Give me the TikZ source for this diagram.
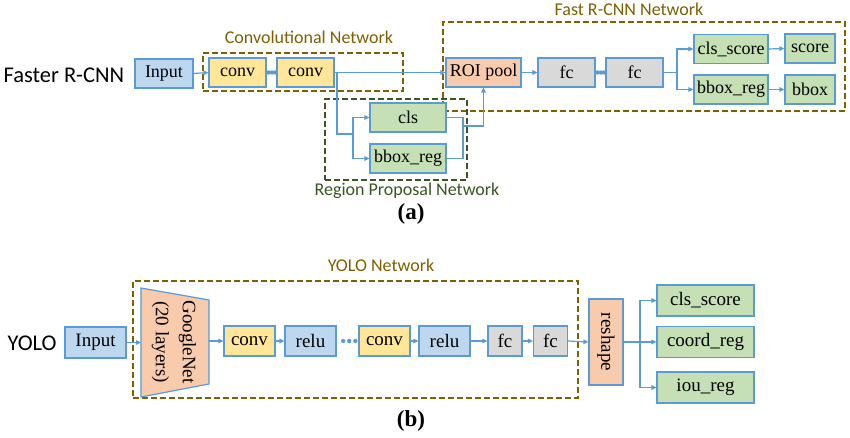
\documentclass[tikz,border=0pt]{standalone}
\usepackage{fontspec}
\setmainfont{Liberation Serif}
\newfontfamily\calfont{Carlito}
\newfontfamily\boxfont{Liberation Serif}
\usetikzlibrary{arrows.meta}
\definecolor{bord}{HTML}{5B9BD5}
\definecolor{fblue}{HTML}{BDD7EE}
\definecolor{fyel}{HTML}{FFE699}
\definecolor{fgrn}{HTML}{C5E0B4}
\definecolor{forg}{HTML}{F8CBAD}
\definecolor{fgry}{HTML}{D9D9D9}
\definecolor{olive}{HTML}{7F6000}
\definecolor{dgrn}{HTML}{385723}
\begin{document}
\begin{tikzpicture}[x=1pt,y=-1pt,
  box/.style={draw=bord, line width=1.2pt, inner sep=0pt, font=\boxfont\fontsize{18}{20}\selectfont},
  boxb/.style={box, font=\boxfont\fontsize{19}{21}\selectfont, minimum height=30pt},
  sbox/.style={box, minimum height=29pt},
  dbox/.style={draw=#1, line width=1.8pt, dash pattern=on 6pt off 3pt, inner sep=0pt},
  lab/.style={font=\calfont\fontsize{18}{20}\selectfont, text=#1},
  conn/.style={draw=bord, line width=1.2pt},
  arr/.style={conn, -{Triangle[length=5pt,width=4.5pt]}},
  dotc/.style={circle, fill=bord, inner sep=0pt, minimum size=4.4pt},
  title/.style={font=\calfont\fontsize{22.5}{24}\selectfont},
  capt/.style={font=\boxfont\bfseries\fontsize{23}{25}\selectfont}
]
\fill[white] (0,0) rectangle (850,438);
\useasboundingbox (0,0) rectangle (850,438);

% ---------- (a) Faster R-CNN ----------
\node[title, anchor=west] (tA) at (0,75) {Faster R-CNN};

\node[dbox=olive, minimum width=200pt, minimum height=38pt] (convnet) at (303,72) {};
\node[lab=olive] (convlab) at (309,37) {Convolutional Network};
\node[dbox=olive, minimum width=402pt, minimum height=89pt] (fastnet) at (644,66.5) {};
\node[lab=olive] (fastlab) at (629,9) {Fast R-CNN Network};
\node[dbox=dgrn, minimum width=142pt, minimum height=81pt] (rpn) at (396,139.5) {};
\node[lab=dgrn] (rpnlab) at (407,191) {Region Proposal Network};

\node[sbox, fill=fblue, minimum width=58pt] (inA) at (164,73.5) {Input};
\node[sbox, fill=fyel, minimum width=57pt] (conv1) at (237.5,72.5) {conv};
\node[sbox, fill=fyel, minimum width=57pt] (conv2) at (305.5,72.5) {conv};
\node[sbox, fill=fgrn, minimum width=76pt] (cls) at (408,117.5) {cls};
\node[sbox, fill=fgrn, minimum width=76pt] (bbr) at (408,158.5) {bbox\_reg};
\node[sbox, fill=forg, minimum width=75pt] (roi) at (483.5,72.5) {ROI pool};
\node[sbox, fill=fgry, minimum width=57pt] (fc1) at (566.5,72.5) {fc};
\node[sbox, fill=fgry, minimum width=57pt] (fc2) at (634.5,72.5) {fc};
\node[sbox, fill=fgrn, minimum width=74pt] (clss) at (731,49) {cls\_score};
\node[sbox, fill=fgrn, minimum width=74pt] (bbr2) at (731,89.5) {bbox\_reg};
\node[sbox, fill=fgrn, minimum width=50pt] (score) at (810,48.5) {score};
\node[sbox, fill=fgrn, minimum width=50pt] (bbox) at (810,89.5) {bbox};

\draw[arr] (inA.east) -- (conv1.west);
\path (conv1.east) -- (conv2.west)
  node[dotc, pos=0.2] {} node[dotc, pos=0.55] {} node[dotc, pos=0.88] {};
\draw[arr] (conv2.east) -- (roi.west);
\coordinate (b1) at (337,72.5);
\coordinate (b2) at (353,134);
\draw[conn] (b1) |- (b2);
\draw[arr] (b2) |- (cls.west);
\draw[arr] (b2) |- (bbr.west);
\coordinate (m1) at (463,126);
\draw[conn] (cls.east) -| (m1) |- (bbr.east);
\draw[arr] (m1) -| (roi.south);
\draw[arr] (roi.east) -- (fc1.west);
\path (fc1.east) -- (fc2.west)
  node[dotc, pos=0.2] {} node[dotc, pos=0.55] {} node[dotc, pos=0.88] {};
\coordinate (b3) at (677,72.5);
\draw[conn] (fc2.east) -- (b3);
\draw[arr] (b3) |- (clss.west);
\draw[arr] (b3) |- (bbr2.west);
\draw[arr] (clss.east) -- (score.west);
\draw[arr] (bbr2.east) -- (bbox.west);

\node[capt] (capA) at (411,214) {(a)};

% ---------- (b) YOLO ----------
\node[title, anchor=west] (tB) at (4,343) {YOLO};

\node[dbox=olive, minimum width=445pt, minimum height=117pt] (yolonet) at (355.5,339.5) {};
\node[lab=olive] (yololab) at (381,265) {YOLO Network};

\node[boxb, fill=fblue, minimum width=61pt, minimum height=31pt] (inB) at (95.5,342.5) {Input};
\draw[draw=bord, line width=1.2pt, fill=forg] (141,288) -- (209,300) -- (209,384) -- (141,397) -- cycle;
\node[rotate=-90, align=center, inner sep=0pt, font=\boxfont\fontsize{19}{27}\selectfont] (gn) at (174,342) {GoogleNet\\(20 layers)};
\coordinate (gnL) at (141,342.5);
\coordinate (gnR) at (209,341);

\node[boxb, fill=fyel, minimum width=51pt] (cb1) at (249.5,341) {conv};
\node[boxb, fill=fblue, minimum width=51pt] (rl1) at (310.5,341) {relu};
\node[boxb, fill=fyel, minimum width=51pt] (cb2) at (384.5,341) {conv};
\node[boxb, fill=fblue, minimum width=51pt] (rl2) at (444.5,341) {relu};
\node[boxb, fill=fgry, minimum width=34pt] (fb1) at (505,341) {fc};
\node[boxb, fill=fgry, minimum width=34pt] (fb2) at (550.5,341) {fc};
\node[boxb, fill=forg, minimum width=34pt, minimum height=86pt,
      label={[rotate=-90, font=\boxfont\fontsize{19}{21}\selectfont]center:reshape}] (resh) at (606,342) {};
\node[boxb, fill=fgrn, minimum width=97pt, minimum height=31pt] (clsb) at (705.5,300.5) {cls\_score};
\node[boxb, fill=fgrn, minimum width=97pt, minimum height=31pt] (coord) at (705.5,342) {coord\_reg};
\node[boxb, fill=fgrn, minimum width=97pt, minimum height=31pt] (iou) at (705.5,387.5) {iou\_reg};

\draw[arr] (inB.east) -- (gnL);
\draw[arr] (gnR) -- (cb1.west);
\draw[arr] (cb1.east) -- (rl1.west);
\path (rl1.east) -- (cb2.west)
  node[dotc, pos=0.3] {} node[dotc, pos=0.58] {} node[dotc, pos=0.86] {};
\draw[arr] (cb2.east) -- (rl2.west);
\draw[arr] (rl2.east) -- (fb1.west);
\draw[arr] (fb1.east) -- (fb2.west);
\draw[arr] (fb2.east) -- (resh.west);
\coordinate (b4) at (640,342);
\draw[conn] (resh.east) -- (b4);
\draw[arr] (b4) |- (clsb.west);
\draw[arr] (b4) -- (coord.west);
\draw[arr] (b4) |- (iou.west);

\node[capt] (capB) at (411,421) {(b)};
\end{tikzpicture}
\end{document}
